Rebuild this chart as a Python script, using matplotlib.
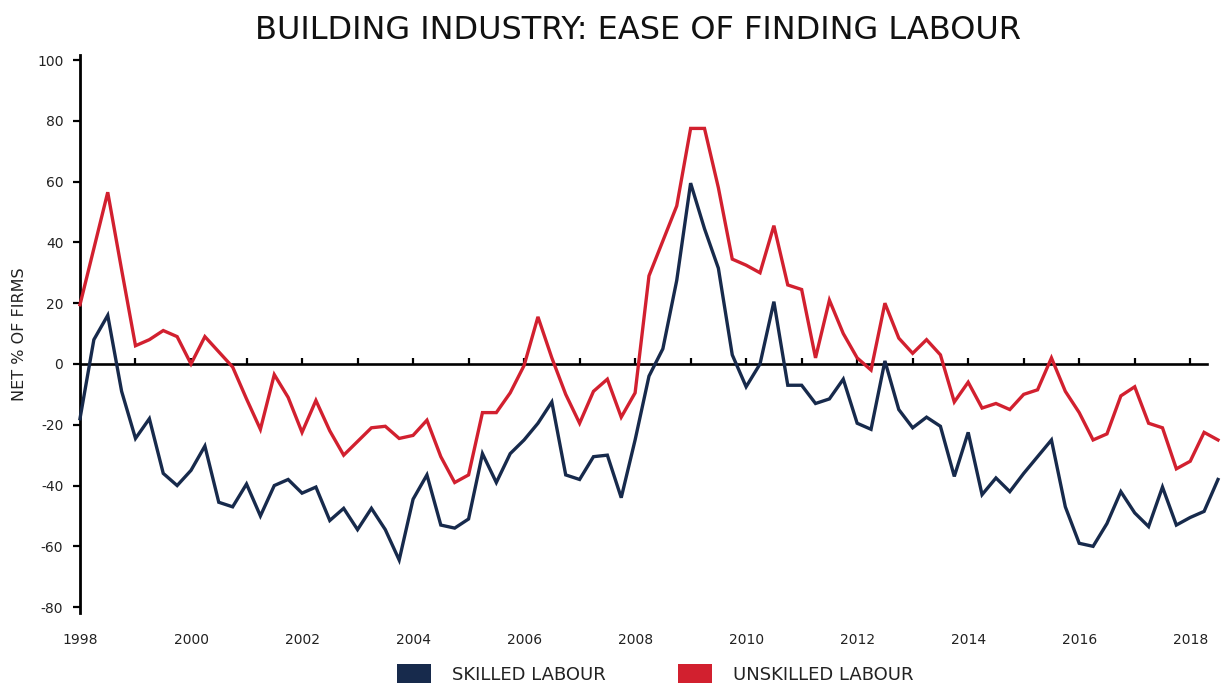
import numpy as np
import matplotlib.pyplot as plt
from matplotlib.patches import Patch

# === DATA (quarterly, 1998 Q1 to 2018 Q3) ===
START_YEAR = 1998
skilled = [
    -18, 8, 16, -9, -24.5, -18, -36, -40, -35, -27,
    -45.5, -47, -39.5, -50, -40, -38, -42.5, -40.5, -51.5, -47.5,
    -54.5, -47.5, -54.5, -64.5, -44.5, -36.5, -53, -54, -51, -29.5,
    -39, -29.5, -25, -19.5, -12.5, -36.5, -38, -30.5, -30, -44,
    -25, -4, 5, 27.5, 59.5, 44.5, 31.5, 3, -7.5, 0,
    20.5, -7, -7, -13, -11.5, -5, -19.5, -21.5, 1, -15,
    -21, -17.5, -20.5, -37, -22.5, -43, -37.5, -42, -36, -30.5,
    -25, -47, -59, -60, -52.5, -42, -49, -53.5, -40.5, -53,
    -50.5, -48.5, -38,
]
unskilled = [
    19.5, 38, 56.5, 31, 6, 8, 11, 9, 0, 9,
    4, -1, -11.5, -21.5, -3.5, -11, -22.5, -12, -22, -30,
    -25.5, -21, -20.5, -24.5, -23.5, -18.5, -30.5, -39, -36.5, -16,
    -16, -9.5, -0.5, 15.5, 2, -10, -19.5, -9, -5, -17.5,
    -9.5, 29, 40.5, 52, 77.5, 77.5, 58, 34.5, 32.5, 30,
    45.5, 26, 24.5, 2, 21, 10, 2, -2, 20, 8.5,
    3.5, 8, 3, -12.5, -6, -14.5, -13, -15, -10, -8.5,
    2, -9, -16, -25, -23, -10.5, -7.5, -19.5, -21, -34.5,
    -32, -22.5, -25,
]
years = START_YEAR + np.arange(len(skilled)) / 4.0

year_ticks = list(range(1998, 2019, 2))
y_ticks = list(range(-80, 101, 20))
zero_ticks = list(range(1999, 2019))

COLOR_SKILLED = "#172A4C"
COLOR_UNSKILLED = "#D2202F"
TEXT_COLOR = "#222222"

plt.rcParams['font.family'] = "DejaVu Sans"
plt.rcParams['axes.unicode_minus'] = False

fig = plt.figure(figsize=(12.23, 6.84), dpi=100)
ax = fig.add_axes([0.0654, 0.1035, 0.9305, 0.8154])

ax.set_xlim(1998, 2018.5)
ax.set_ylim(-82, 101.5)

# zero line with small yearly ticks on top
ax.axhline(0, xmin=0, xmax=(2018.3 - 1998) / 20.5, color="black", lw=1.9, zorder=2)
ax.vlines(zero_ticks, 0, 1.9, color="black", lw=1.6, zorder=2)

ax.plot(years, skilled, color=COLOR_SKILLED, lw=2.4, zorder=3, clip_on=False,
        solid_joinstyle='miter')
ax.plot(years, unskilled, color=COLOR_UNSKILLED, lw=2.4, zorder=4, clip_on=False,
        solid_joinstyle='miter')

for side in ['top', 'right', 'bottom']:
    ax.spines[side].set_visible(False)
ax.spines['left'].set_linewidth(2.0)

ax.set_yticks(y_ticks)
ax.set_xticks(year_ticks)
ax.tick_params(axis='y', direction='out', length=5, width=1.6, pad=7,
               labelsize=10, labelcolor=TEXT_COLOR)
ax.tick_params(axis='x', length=0, pad=14, labelsize=10, labelcolor=TEXT_COLOR)

ax.set_ylabel("NET % OF FIRMS", fontsize=11.5, color=TEXT_COLOR, labelpad=7)

fig.suptitle("BUILDING INDUSTRY: EASE OF FINDING LABOUR", x=0.522, y=0.978,
             fontsize=23, color="#111111")

handles = [Patch(facecolor=COLOR_SKILLED, label="SKILLED LABOUR"),
           Patch(facecolor=COLOR_UNSKILLED, label="UNSKILLED LABOUR")]
fig.legend(handles=handles, loc='center', bbox_to_anchor=(0.536, 0.015),
           ncol=2, frameon=False, fontsize=13, handlelength=1.85,
           handleheight=1.25, handletextpad=1.2, columnspacing=4.0,
           labelcolor=TEXT_COLOR)

fig.savefig("out.png", dpi=100)
